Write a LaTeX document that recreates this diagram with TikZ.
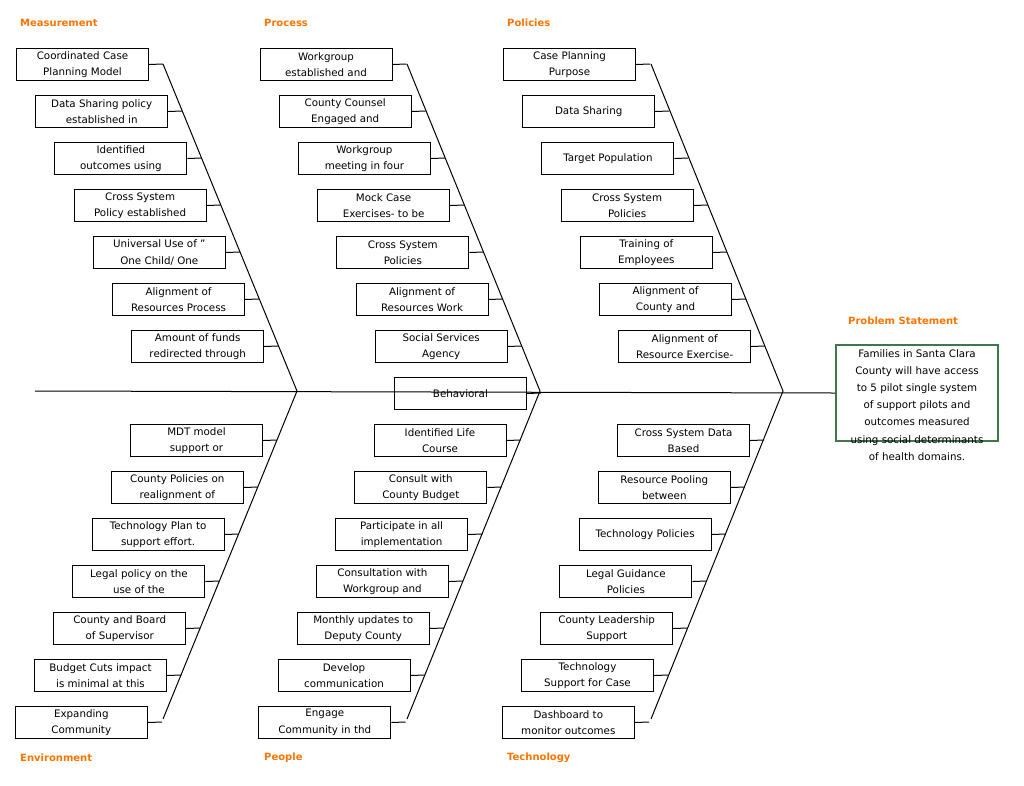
\documentclass[tikz,border=0pt]{standalone}
\usepackage{fontspec}
\setmainfont{DejaVu Sans}
\begin{document}
\begin{tikzpicture}[x=1pt,y=-1pt,
  box/.style={draw,line width=1pt,anchor=north west,minimum width=132pt,minimum height=32pt,inner sep=0pt,align=center,font=\fontsize{10.3}{16.5}\selectfont},
  cat/.style={anchor=west,text=orange!90!red,font=\bfseries\fontsize{10}{12}\selectfont,inner sep=0pt},
  bone/.style={line width=1pt}]
\definecolor{pgreen}{RGB}{62,120,72}
\useasboundingbox (0,0) rectangle (1024,785);
% categories
\node[cat] (cM) at (20,23) {Measurement};
\node[cat] (cP) at (264,23) {Process};
\node[cat] (cPo) at (507,23) {Policies};
\node[cat] (cE) at (20,758) {Environment};
\node[cat] (cPe) at (264,758) {People};
\node[cat] (cT) at (507,758) {Technology};
\node[cat] (cS) at (848,321) {Problem Statement};
% problem
\node[draw=pgreen,line width=2pt,anchor=north west,minimum width=162pt,minimum height=96pt,inner sep=0pt] (pb) at (835,344) {};
\node[anchor=north,align=center,inner sep=0pt,font=\fontsize{10.3}{17.2}\selectfont] (pt) at (917,349) {Families in Santa Clara\\County will have access\\to 5 pilot single system\\of support pilots and\\outcomes measured\\using social determinants\\of health domains.};
% spine
\coordinate (sL) at (35,391);
\coordinate (h1) at (297,391);
\coordinate (h2) at (540,391);
\coordinate (h3) at (783,391);
\draw[bone] (sL) -- (pb.west);
% top diagonals
\coordinate (t0) at (163,64); \coordinate (t1) at (407,64); \coordinate (t2) at (651,64);
\coordinate (b0) at (163,719); \coordinate (b1) at (407,719); \coordinate (b2) at (651,719);
\draw[bone] (t0) -- (h1) -- (b0);
\draw[bone] (t1) -- (h2) -- (b1);
\draw[bone] (t2) -- (h3) -- (b2);
% top boxes
\foreach \k/\lst in {0/{Coordinated Case\\Planning Model,Data Sharing policy\\established in,Identified\\outcomes using,Cross System\\Policy established,Universal Use of "\\One Child/ One,Alignment of\\Resources Process,Amount of funds\\redirected through},
  1/{Workgroup\\established and,County Counsel\\Engaged and,Workgroup\\meeting in four,Mock Case\\Exercises- to be,Cross System\\Policies,Alignment of\\Resources Work,Social Services\\Agency, Behavioral},
  2/{Case Planning\\Purpose,Data Sharing,Target Population,Cross System\\Policies,Training of\\Employees,Alignment of\\County and,Alignment of\\Resource Exercise-}}{
  \foreach \t [count=\i from 0] in \lst {
    \node[box] (T\k\i) at ({16+19.2*\i+243.5*\k},{48+47*\i}) {\t};
    \coordinate (TC\k\i) at ({163+19.2*\i+243.5*\k},{64+47*\i});
    \draw[bone] (T\k\i.east) -- (TC\k\i);
  }
}
% bottom boxes
\foreach \k/\lst in {0/{MDT  model\\support or,County Policies on\\realignment of,Technology Plan to\\support effort.,Legal policy on the\\use of the,County and Board\\of Supervisor,Budget Cuts impact\\is minimal at this,Expanding\\Community},
  1/{Identified Life\\Course,Consult with\\County Budget,Participate in all\\implementation,Consultation with\\Workgroup and,Monthly updates to\\Deputy County,Develop\\communication,Engage\\Community in thd},
  2/{Cross System Data\\Based,Resource Pooling\\between,Technology Policies,Legal Guidance\\Policies,County Leadership\\Support,Technology\\Support for Case,Dashboard to\\monitor outcomes}}{
  \foreach \t [count=\i from 0] in \lst {
    \node[box] (B\k\i) at ({130-19.2*\i+243.5*\k},{424+47*\i}) {\t};
    \coordinate (BC\k\i) at ({297-0.4073*(49+47*\i)+243.5*\k},{440+47*\i});
    \draw[bone] (B\k\i.east) -- (BC\k\i);
  }
}
\end{tikzpicture}
\end{document}
